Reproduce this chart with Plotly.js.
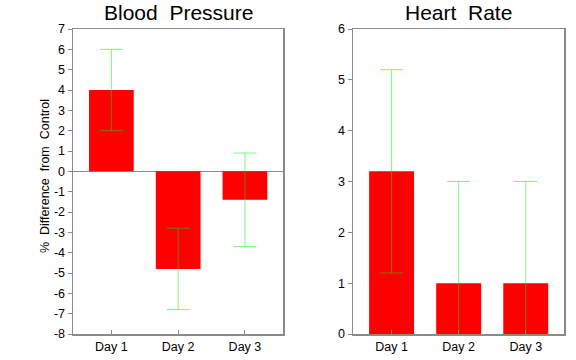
<!DOCTYPE html>
<html>
<head>
<meta charset="utf-8">
<script src="https://cdn.plot.ly/plotly-3.0.1.min.js"></script>
<style>html,body{margin:0;padding:0;background:#fff;}#chart{width:576px;height:360px;}</style>
</head>
<body>
<div id="chart"></div>
<script>
const categories = ["Day 1", "Day 2", "Day 3"];
const bpValues = [4, -4.8, -1.4];
const bpErrors = [2, 2, 2.3];
const hrValues = [3.2, 1, 1];
const hrErrors = [2, 2, 2];
const bpTitle = "Blood\u00a0 Pressure";
const hrTitle = "Heart\u00a0 Rate";
const yTitle = "%\u00a0 Difference\u00a0 from\u00a0 Control";
const bpTicks = [-8,-7,-6,-5,-4,-3,-2,-1,0,1,2,3,4,5,6,7];
const bpTickText = ["-8","-7","-6","-5","-4","-3","-2","-1","0","1","2","3","4","5","6","7"];
const hrTicks = [0,1,2,3,4,5,6];

const errColor = "rgba(0,240,0,0.5)";
const frame = "#8a8a8a";
const font = {family: "Liberation Sans, Arial, sans-serif", size: 12.5, color: "#000"};

const traces = [
  {type: "bar", x: categories, y: bpValues, xaxis: "x", yaxis: "y",
   marker: {color: "#ff0000", line: {width: 0}}, width: 0.67,
   error_y: {type: "data", array: bpErrors, visible: true, color: errColor, thickness: 1, width: 11.5}},
  {type: "bar", x: categories, y: hrValues, xaxis: "x2", yaxis: "y2",
   marker: {color: "#ff0000", line: {width: 0}}, width: 0.67,
   error_y: {type: "data", array: hrErrors, visible: true, color: errColor, thickness: 1, width: 11.5}}
];

const xCommon = {range: [-0.575, 2.57], showline: true, mirror: true, linecolor: frame, linewidth: 1.5,
  ticks: "inside", ticklen: 4, tickcolor: frame, showgrid: false, zeroline: false, tickfont: font, fixedrange: true};
const yCommon = {showline: true, mirror: true, linecolor: frame, linewidth: 1.5,
  ticks: "outside", ticklen: 4, tickcolor: frame, showgrid: false, tickfont: font, fixedrange: true};

const layout = {
  width: 576, height: 360,
  margin: {l: 0, r: 0, t: 0, b: 0},
  paper_bgcolor: "#fff", plot_bgcolor: "#fff",
  showlegend: false,
  font: font,
  xaxis: Object.assign({}, xCommon, {domain: [73/576, 283/576], anchor: "y"}),
  yaxis: Object.assign({}, yCommon, {domain: [1-334/360, 1-29/360], anchor: "x", range: [-8, 7],
    tickmode: "array", tickvals: bpTicks, ticktext: bpTickText, zeroline: true, zerolinecolor: frame, zerolinewidth: 1.5}),
  xaxis2: Object.assign({}, xCommon, {domain: [353/576, 564/576], anchor: "y2"}),
  yaxis2: Object.assign({}, yCommon, {domain: [1-334/360, 1-29/360], anchor: "x2", range: [0, 6],
    tickmode: "array", tickvals: hrTicks, zeroline: false}),
  annotations: [
    {text: bpTitle, xref: "paper", yref: "paper", x: 178/576, y: 1-13/360, xanchor: "center", yanchor: "middle",
     showarrow: false, font: {family: font.family, size: 21, color: "#000"}},
    {text: hrTitle, xref: "paper", yref: "paper", x: 458/576, y: 1-13/360, xanchor: "center", yanchor: "middle",
     showarrow: false, font: {family: font.family, size: 21, color: "#000"}},
    {text: yTitle, xref: "paper", yref: "paper", x: 45/576, y: 1-176/360, xanchor: "center", yanchor: "middle",
     textangle: -90, showarrow: false, font: {family: font.family, size: 12.5, color: "#000"}}
  ]
};

Plotly.newPlot("chart", traces, layout, {displayModeBar: false, staticPlot: true});
</script>
</body>
</html>
